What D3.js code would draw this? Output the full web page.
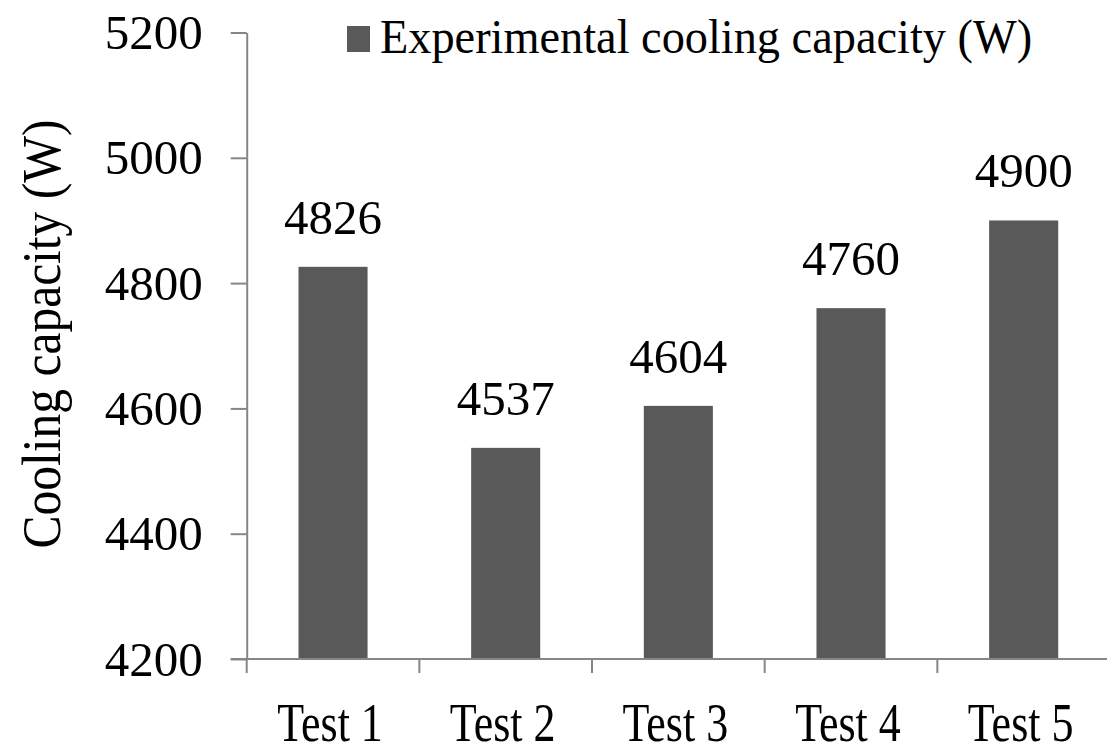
<!DOCTYPE html>
<html>
  <head>
    <meta charset="utf-8" />
    <title>cooling capacity</title>
    <script src="https://d3js.org/d3.v7.min.js"></script>
  </head>
  <body style="margin: 0; background: #fff">
    <script>
      // data
      const tests = ["Test 1", "Test 2", "Test 3", "Test 4", "Test 5"];
      const capacity = [4826, 4537, 4604, 4760, 4900];
      const yTicks = [4200, 4400, 4600, 4800, 5000, 5200];
      const legendLabel = "Experimental cooling capacity  (W)";
      const yLabel = "Cooling capacity (W)";

      const width = 1107, height = 754;
      const plotLeft = 246.7, plotRight = 1110, plotTop = 32.5, plotBottom = 659;
      const axisColor = "#868686", barColor = "#595959";
      const serif = '"Liberation Serif", "Times New Roman", serif';

      const svg = d3.select("body").append("svg")
        .attr("width", width)
        .attr("height", height);

      const x = d3.scaleBand()
        .domain(tests)
        .range([plotLeft, plotRight])
        .paddingInner(0.6)
        .paddingOuter(0.3);

      const y = d3.scaleLinear()
        .domain([4200, 5200])
        .range([plotBottom, plotTop]);

      // squeeze text horizontally, the original font is narrow
      function squeeze(sel, k) {
        sel.each(function () {
          const w = this.getComputedTextLength();
          d3.select(this)
            .attr("textLength", w * k)
            .attr("lengthAdjust", "spacingAndGlyphs");
        });
      }

      // bars
      svg.selectAll(".bar")
        .data(capacity)
        .join("rect")
        .attr("class", "bar")
        .attr("x", (d, i) => x(tests[i]))
        .attr("y", d => y(d))
        .attr("width", x.bandwidth())
        .attr("height", d => y(4200) - y(d))
        .attr("fill", barColor);

      // value labels
      svg.selectAll(".val")
        .data(capacity)
        .join("text")
        .attr("class", "val")
        .attr("x", (d, i) => x(tests[i]) + x.bandwidth() / 2)
        .attr("y", d => y(d) - 33)
        .attr("text-anchor", "middle")
        .style("font-family", serif)
        .style("font-size", "49px")
        .text(d => d);

      // y axis
      const yAxis = svg.append("g")
        .attr("transform", `translate(${plotLeft},0)`)
        .call(d3.axisLeft(y).tickValues(yTicks).tickFormat(d3.format("d"))
          .tickSize(16).tickSizeOuter(0).tickPadding(28));
      yAxis.select(".domain").attr("stroke", axisColor).attr("stroke-width", 2);
      yAxis.selectAll(".tick line").attr("stroke", axisColor).attr("stroke-width", 2);
      yAxis.selectAll(".tick text")
        .style("font-family", serif)
        .style("font-size", "49px")
        .attr("fill", "#000")
        .attr("dy", "0.33em");

      // x axis: line, boundary ticks, labels
      svg.append("line")
        .attr("x1", plotLeft - 16).attr("x2", width)
        .attr("y1", plotBottom).attr("y2", plotBottom)
        .attr("stroke", axisColor).attr("stroke-width", 2);

      const bounds = d3.range(tests.length).map(i => plotLeft + i * x.step());
      svg.selectAll(".xtick")
        .data(bounds)
        .join("line")
        .attr("class", "xtick")
        .attr("x1", d => d).attr("x2", d => d)
        .attr("y1", plotBottom).attr("y2", plotBottom + 14)
        .attr("stroke", axisColor).attr("stroke-width", 2);

      svg.selectAll(".xlab")
        .data(tests)
        .join("text")
        .attr("class", "xlab")
        .attr("x", d => x(d) + x.bandwidth() / 2 - 3)
        .attr("y", 741)
        .attr("text-anchor", "middle")
        .style("font-family", serif)
        .style("font-size", "55px")
        .text(d => d)
        .call(squeeze, 0.8);

      // y axis title
      svg.append("text")
        .attr("transform", "translate(60,334) rotate(-90)")
        .attr("text-anchor", "middle")
        .style("font-family", serif)
        .style("font-size", "55px")
        .text(yLabel)
        .call(squeeze, 0.9);

      // legend
      svg.append("rect")
        .attr("x", 347).attr("y", 26)
        .attr("width", 23).attr("height", 26)
        .attr("fill", barColor);
      svg.append("text")
        .attr("x", 380).attr("y", 53)
        .style("font-family", serif)
        .style("font-size", "48px")
        .text(legendLabel)
        .call(squeeze, 0.965);
    </script>
  </body>
</html>
